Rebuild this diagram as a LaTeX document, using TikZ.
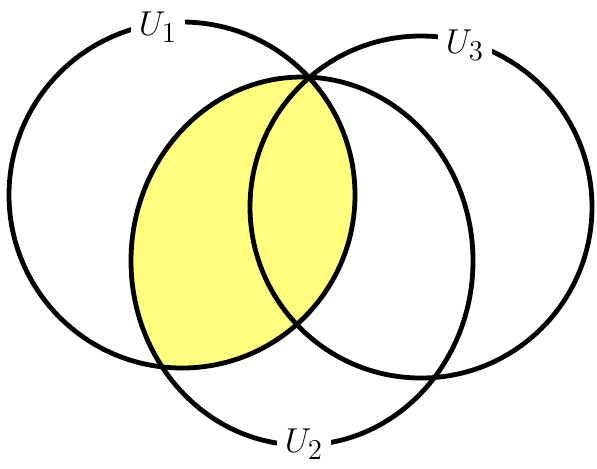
\documentclass[tikz,border=0pt]{standalone}
\definecolor{vennyellow}{RGB}{255,255,125}
\begin{document}
\begin{tikzpicture}[x=0.5pt,y=-0.5pt,
  venn/.style={draw=black,line width=2.4pt},
  lbl/.style={fill=white,inner sep=4pt,font=\fontsize{19}{22}\selectfont}]
\useasboundingbox (0,0) rectangle (597,468);
\coordinate (c1) at (182,195);
\coordinate (c2) at (302,261);
\coordinate (c3) at (421,207);
\begin{scope}
  \clip (c1) circle [radius=86.5pt];
  \fill[vennyellow] (c2) ellipse [x radius=85.5pt, y radius=92pt];
\end{scope}
\draw[venn] (c1) circle [radius=86.5pt];
\draw[venn] (c2) ellipse [x radius=85.5pt, y radius=92pt];
\draw[venn] (c3) circle [radius=85.5pt];
\node[lbl] (u1) at (158,27) {$U_1$};
\node[lbl] (u3) at (465,45) {$U_3$};
\node[lbl] (u2) at (304,444) {$U_2$};
\end{tikzpicture}
\end{document}
